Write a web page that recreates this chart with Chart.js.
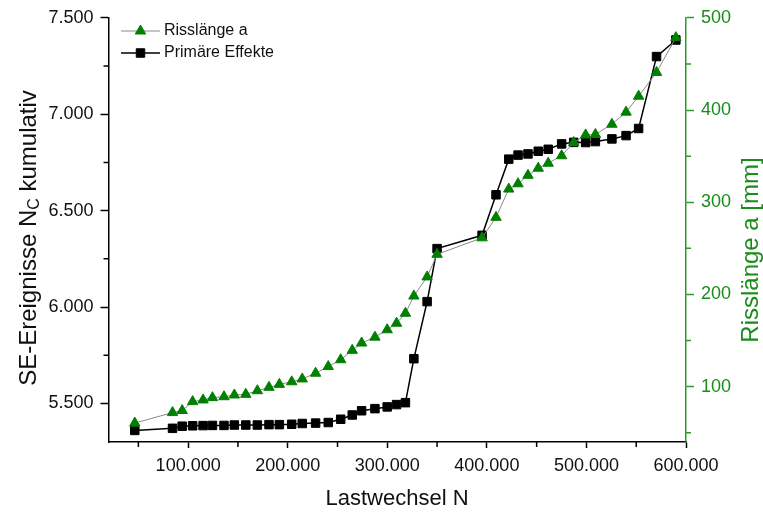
<!DOCTYPE html>
<html>
<head>
<meta charset="utf-8">
<script src="https://cdn.jsdelivr.net/npm/chart.js@4.4.0/dist/chart.umd.min.js"></script>
<style>
  html, body { margin: 0; padding: 0; background: #fff; }
  #wrap { width: 763px; height: 512px; }
</style>
</head>
<body>
<div id="wrap"><canvas id="chart" width="763" height="512"></canvas></div>
<script>
// Lastwechsel N (x)
const lastwechsel = [46400, 84300, 94000, 104500, 115000, 124400, 136000, 146400, 157900, 169500,
    181200, 191600, 204000, 214600, 228000, 240700, 253200, 264800, 274200, 287600,
    299900, 309300, 318200, 326700, 340000, 350000, 395200, 409200, 422000, 431300,
    441300, 451600, 461600, 475100, 487200, 499200, 509000, 525600, 539800, 552400,
    570400, 589800];

// Primäre Effekte, SE-Ereignisse N_C kumulativ (left axis)
const primaer = [5360, 5371, 5382, 5384, 5385, 5386, 5386, 5388, 5388, 5388,
    5390, 5390, 5392, 5396, 5398, 5401, 5418, 5440, 5462, 5473,
    5482, 5494, 5504, 5732, 6028, 6303, 6372, 6582, 6767, 6788,
    6794, 6808, 6818, 6846, 6854, 6853, 6858, 6872, 6889, 6926,
    7299, 7385];

// Risslänge a [mm] (right axis)
const risslaenge = [60.5, 71.9, 74.1, 83.8, 85.6, 88.1, 89.1, 91.0, 91.7, 95.6,
    99.3, 102.5, 105.3, 108.4, 114.6, 121.8, 129.2, 139.4, 147.3, 153.7,
    161.7, 168.8, 179.6, 198.3, 219.0, 243.5, 261.4, 283.6, 314.3, 320.0,
    329.2, 336.9, 342.3, 350.4, 364.7, 373.0, 373.5, 384.6, 397.7, 415.0,
    440.8, 478.5];

// ticks (major get labels, minor only a short tick mark)
const xMajor = [100000, 200000, 300000, 400000, 500000, 600000];
const xMinor = [50000, 150000, 250000, 350000, 450000, 550000];
const yLeftMajor = [5500, 6000, 6500, 7000, 7500];
const yLeftMinor = [5750, 6250, 6750, 7250];
const yRightMajor = [100, 200, 300, 400, 500];
const yRightMinor = [50, 150, 250, 350, 450];

const FONT = "'Liberation Sans', Arial, sans-serif";
const GREEN = '#008000';
const TEXT_GREEN = '#1a8c1a';
const AXIS_GREEN = '#2a9a2a';

// german thousands separator: 100000 -> 100.000
function fmt(v) {
    return String(v).replace(/\B(?=(\d{3})+(?!\d))/g, '.');
}

function tickList(major, minor) {
    return major.concat(minor).sort((a, b) => a - b).map(v => ({ value: v }));
}

const titlesAndLegend = {
    id: 'titlesAndLegend',
    afterDraw(chart) {
        const ctx = chart.ctx;
        const area = chart.chartArea;
        ctx.save();

        // short minor ticks, drawn outward
        ctx.lineWidth = 1.5;
        ctx.strokeStyle = '#000';
        ctx.beginPath();
        xMinor.forEach(v => {
            const x = chart.scales.x.getPixelForValue(v);
            ctx.moveTo(x, area.bottom);
            ctx.lineTo(x, area.bottom + 5);
        });
        yLeftMinor.forEach(v => {
            const y = chart.scales.yL.getPixelForValue(v);
            ctx.moveTo(area.left, y);
            ctx.lineTo(area.left - 5, y);
        });
        ctx.stroke();
        ctx.strokeStyle = AXIS_GREEN;
        ctx.beginPath();
        yRightMinor.forEach(v => {
            const y = chart.scales.yR.getPixelForValue(v);
            ctx.moveTo(area.right, y);
            ctx.lineTo(area.right + 5, y);
        });
        ctx.stroke();

        // x title
        ctx.fillStyle = '#111';
        ctx.font = '22px ' + FONT;
        ctx.textAlign = 'center';
        ctx.textBaseline = 'middle';
        ctx.fillText('Lastwechsel N', 397, 499);

        // left y title with subscript C
        ctx.save();
        ctx.translate(29, 238);
        ctx.rotate(-Math.PI / 2);
        const p1 = 'SE-Ereignisse N', sub = 'C', p2 = ' kumulativ';
        ctx.font = '24px ' + FONT;
        const w1 = ctx.measureText(p1).width, w3 = ctx.measureText(p2).width;
        ctx.font = '16px ' + FONT;
        const w2 = ctx.measureText(sub).width;
        let x0 = -(w1 + w2 + w3) / 2;
        ctx.textAlign = 'left';
        ctx.textBaseline = 'middle';
        ctx.font = '24px ' + FONT;
        ctx.fillText(p1, x0, 0);
        ctx.font = '16px ' + FONT;
        ctx.fillText(sub, x0 + w1, 6);
        ctx.font = '24px ' + FONT;
        ctx.fillText(p2, x0 + w1 + w2, 0);
        ctx.restore();

        // right y title
        ctx.save();
        ctx.translate(751, 250);
        ctx.rotate(-Math.PI / 2);
        ctx.fillStyle = TEXT_GREEN;
        ctx.font = '24px ' + FONT;
        ctx.textAlign = 'center';
        ctx.textBaseline = 'middle';
        ctx.fillText('Risslänge a [mm]', 0, 0);
        ctx.restore();

        // legend inside plot, top left
        chart.data.datasets.forEach((ds, i) => {
            const y = 31 + i * 22;
            ctx.strokeStyle = ds.borderColor;
            ctx.lineWidth = ds.borderWidth;
            ctx.beginPath();
            ctx.moveTo(121, y);
            ctx.lineTo(160, y);
            ctx.stroke();
            ctx.fillStyle = ds.pointBackgroundColor;
            ctx.strokeStyle = ds.pointBorderColor;
            ctx.lineWidth = 1;
            Chart.helpers.drawPoint(ctx, { pointStyle: ds.pointStyle, radius: ds.pointRadius, borderWidth: 1 }, 140.5, y);
            ctx.fillStyle = '#111';
            ctx.font = '16px ' + FONT;
            ctx.textAlign = 'left';
            ctx.textBaseline = 'middle';
            ctx.fillText(ds.label, 164, y);
        });

        ctx.restore();
    }
};

new Chart(document.getElementById('chart'), {
    type: 'line',
    data: {
        datasets: [
            {
                label: 'Risslänge a',
                data: lastwechsel.map((x, i) => ({ x: x, y: risslaenge[i] })),
                yAxisID: 'yR',
                borderColor: '#8a8a8a',
                borderWidth: 1,
                pointStyle: 'triangle',
                pointRadius: 6,
                pointBackgroundColor: GREEN,
                pointBorderColor: GREEN,
                pointBorderWidth: 1,
                tension: 0
            },
            {
                label: 'Primäre Effekte',
                data: lastwechsel.map((x, i) => ({ x: x, y: primaer[i] })),
                yAxisID: 'yL',
                borderColor: '#000',
                borderWidth: 1.5,
                pointStyle: 'rect',
                pointRadius: 6,
                pointBackgroundColor: '#000',
                pointBorderColor: '#000',
                pointBorderWidth: 1,
                tension: 0
            }
        ]
    },
    options: {
        responsive: false,
        animation: false,
        devicePixelRatio: 1,
        layout: { padding: { top: 15, left: 0, right: 0, bottom: 0 } },
        plugins: { legend: { display: false }, tooltip: { enabled: false } },
        scales: {
            x: {
                type: 'linear',
                min: 20000,
                max: 600000,
                afterBuildTicks: s => { s.ticks = tickList(xMajor, xMinor); },
                afterFit: s => { s.height = 70; },
                ticks: {
                    autoSkip: false,
                    maxRotation: 0,
                    padding: 7,
                    color: '#111',
                    font: { family: FONT, size: 18 },
                    callback: v => xMajor.includes(v) ? fmt(v) : ''
                },
                grid: {
                    drawOnChartArea: false, tickLength: 6, tickWidth: 1.5,
                    tickColor: c => c.tick && xMajor.includes(c.tick.value) ? '#000' : 'rgba(0,0,0,0)'
                },
                border: { color: '#000', width: 1.5 }
            },
            yL: {
                type: 'linear',
                position: 'left',
                min: 5300,
                max: 7500,
                afterBuildTicks: s => { s.ticks = tickList(yLeftMajor, yLeftMinor); },
                afterFit: s => { s.width = 108.5; },
                ticks: {
                    autoSkip: false,
                    padding: 7,
                    color: '#111',
                    font: { family: FONT, size: 18 },
                    callback: v => yLeftMajor.includes(v) ? fmt(v) : ''
                },
                grid: {
                    drawOnChartArea: false, tickLength: 8, tickWidth: 1.5,
                    tickColor: c => c.tick && yLeftMajor.includes(c.tick.value) ? '#000' : 'rgba(0,0,0,0)'
                },
                border: { color: '#000', width: 1.5 }
            },
            yR: {
                type: 'linear',
                position: 'right',
                min: 40,
                max: 500,
                afterBuildTicks: s => { s.ticks = tickList(yRightMajor, yRightMinor); },
                afterFit: s => { s.width = 77; },
                ticks: {
                    autoSkip: false,
                    padding: 7,
                    color: TEXT_GREEN,
                    font: { family: FONT, size: 18 },
                    callback: v => yRightMajor.includes(v) ? String(v) : ''
                },
                grid: {
                    drawOnChartArea: false, tickLength: 8, tickWidth: 1.5,
                    tickColor: c => c.tick && yRightMajor.includes(c.tick.value) ? AXIS_GREEN : 'rgba(0,0,0,0)'
                },
                border: { color: AXIS_GREEN, width: 1.5 }
            }
        }
    },
    plugins: [titlesAndLegend]
});
</script>
</body>
</html>
